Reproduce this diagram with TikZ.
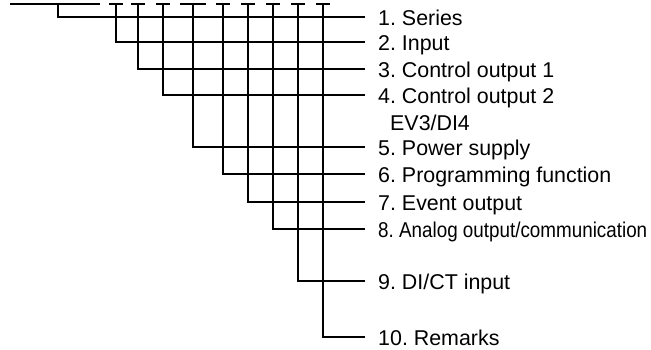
\documentclass[tikz,border=0pt]{standalone}
\usepackage{fontspec}
\usepackage{graphicx}
\setmainfont{Liberation Sans}
\frenchspacing
\begin{document}
\begin{tikzpicture}[x=1pt,y=-1pt,
  wire/.style={draw=black, line width=2.8pt, line join=miter},
  lbl/.style={anchor=base west, inner sep=0pt, font=\fontsize{21.4}{25}\selectfont}]
\useasboundingbox (0,0) rectangle (651,349);
% top lead line
\coordinate (s0) at (10,4);
\coordinate (s1) at (100,4);
\draw[wire] (s0) -- (s1);
% branch 1 drops from the lead line
\coordinate (t1) at (58,4);
\coordinate (c1) at (58,17);
\coordinate (e1) at (365,17);
\node[lbl] (l1) at (378,25) {1. Series};
\draw[wire] (t1) -- (c1) -- (e1);
% remaining branches with T heads
\foreach \i/\x/\y/\h/\txt in {
  2/116/42/7/{2. Input},
  3/138/69/7/{3. Control output 1},
  4/163/95/7/{4. Control output 2},
  5/193/147/13/{5. Power supply},
  6/223/174/7/{6. Programming function},
  7/248/202/7/{7. Event output},
  8/273/229/7/{\scalebox{0.88}[1]{8. Analog output/communication}},
  9/298/281/7/{9. DI/CT input},
  10/323/337/7/{10. Remarks}}{
  \coordinate (t\i) at (\x,4);
  \coordinate (ta\i) at (\x-\h,4);
  \coordinate (tb\i) at (\x+\h,4);
  \coordinate (c\i) at (\x,\y);
  \coordinate (e\i) at (365,\y);
  \node[lbl] (l\i) at (378,\y+8) {\txt};
  \draw[wire] (ta\i) -- (tb\i);
  \draw[wire] (t\i) -- (c\i) -- (e\i);
}
\node[lbl] (ev) at (390,130) {EV3/DI4};
\end{tikzpicture}
\end{document}
